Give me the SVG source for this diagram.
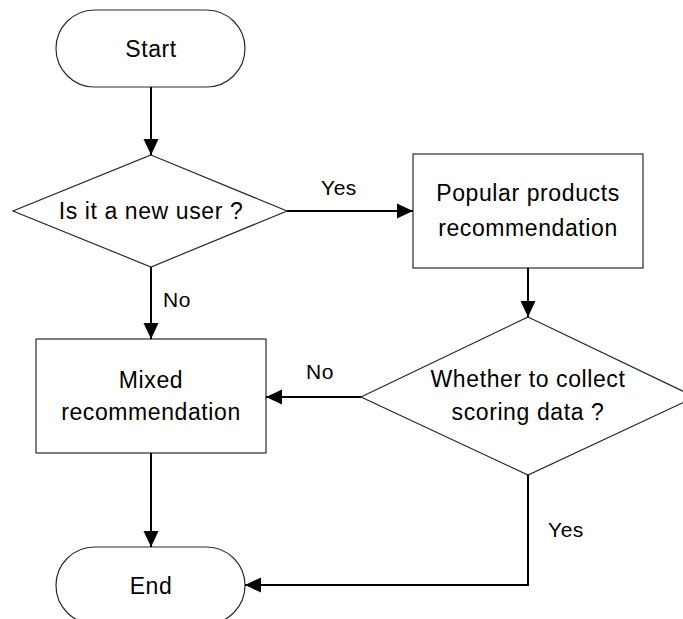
<svg xmlns="http://www.w3.org/2000/svg" width="683" height="619" viewBox="0 0 683 619">
  <defs>
    <marker id="arrow" markerUnits="userSpaceOnUse" markerWidth="16" markerHeight="16" viewBox="0 0 16 16" refX="16" refY="8" orient="auto">
      <path d="M0,0.5 L16,8 L0,15.5 Z" fill="#000"/>
    </marker>
  </defs>
  <style>
    .shape { fill: #fff; stroke: #2b2b2b; stroke-width: 1.2; }
    .txt { font-family: "Liberation Sans", Arial, sans-serif; font-size: 23px; letter-spacing: 0.6px; fill: #000; text-anchor: middle; }
    .lbl { font-family: "Liberation Sans", Arial, sans-serif; font-size: 21px; letter-spacing: 0.5px; fill: #000; text-anchor: middle; }
    .conn { fill: none; stroke: #000; stroke-width: 2; }
  </style>
  <rect width="683" height="619" fill="#fff"/>

  <g id="start">
    <rect class="shape" x="56" y="10" width="189" height="77" rx="38.5" ry="38.5"/>
    <text class="txt" x="151" y="57">Start</text>
  </g>

  <g id="is-new-user">
    <polygon class="shape" points="151,155 287,211 151,267 13,211"/>
    <text class="txt" x="151" y="219">Is it a new user ?</text>
  </g>

  <g id="popular">
    <rect class="shape" x="413" y="154" width="230" height="114"/>
    <text class="txt" x="528" y="201">Popular products</text>
    <text class="txt" x="528" y="236">recommendation</text>
  </g>

  <g id="collect-scoring">
    <polygon class="shape" points="528,317 695,397 528,475 361,397"/>
    <text class="txt" x="528" y="387">Whether to collect</text>
    <text class="txt" x="528" y="420">scoring data ?</text>
  </g>

  <g id="mixed">
    <rect class="shape" x="36" y="339" width="230" height="114"/>
    <text class="txt" x="151" y="388">Mixed</text>
    <text class="txt" x="151" y="420">recommendation</text>
  </g>

  <g id="end">
    <rect class="shape" x="56" y="547" width="189" height="77" rx="38.5" ry="38.5"/>
    <text class="txt" x="151" y="594">End</text>
  </g>

  <g id="connectors">
    <path class="conn" d="M151,87 L151,155" marker-end="url(#arrow)"/>
    <path class="conn" d="M287,211 L413,211" marker-end="url(#arrow)"/>
    <path class="conn" d="M151,267 L151,339" marker-end="url(#arrow)"/>
    <path class="conn" d="M528,268 L528,317" marker-end="url(#arrow)"/>
    <path class="conn" d="M361,397 L266,397" marker-end="url(#arrow)"/>
    <path class="conn" d="M151,453 L151,547" marker-end="url(#arrow)"/>
    <path class="conn" d="M528,475 L528,585 L245,585" marker-end="url(#arrow)"/>
    <text class="lbl" x="339" y="195">Yes</text>
    <text class="lbl" x="177" y="307">No</text>
    <text class="lbl" x="320" y="379">No</text>
    <text class="lbl" x="566" y="537">Yes</text>
  </g>
</svg>
